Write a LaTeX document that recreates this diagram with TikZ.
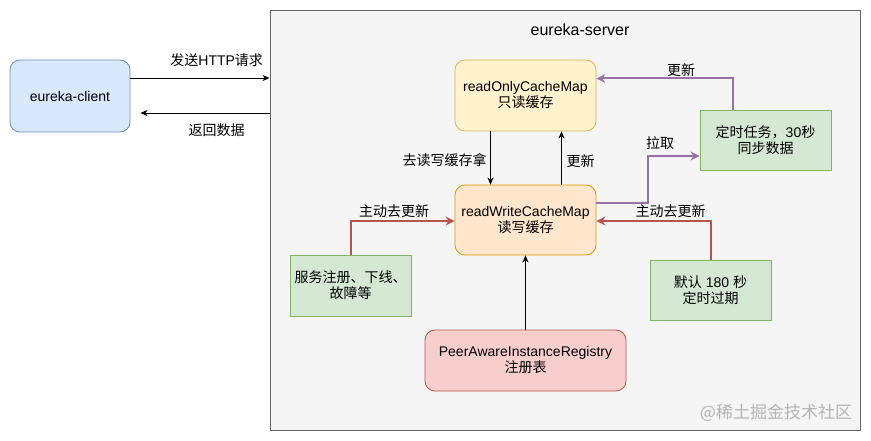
\documentclass[tikz,border=0pt]{standalone}
\usepackage{fontspec}
\setmainfont{Liberation Sans}
\newfontfamily\cjk{Noto Sans CJK SC}
\newcommand\zh[1]{{\cjk #1}}
\usetikzlibrary{arrows.meta}
\definecolor{srvfill}{HTML}{F5F5F5}
\definecolor{srvline}{HTML}{666666}
\definecolor{bluefill}{HTML}{DAE8FC}
\definecolor{blueline}{HTML}{6C8EBF}
\definecolor{yelfill}{HTML}{FFF2CC}
\definecolor{yelline}{HTML}{D6B656}
\definecolor{orgfill}{HTML}{FFE6CC}
\definecolor{orgline}{HTML}{D79B00}
\definecolor{grnfill}{HTML}{D5E8D4}
\definecolor{grnline}{HTML}{82B366}
\definecolor{redfill}{HTML}{F8CECC}
\definecolor{redline}{HTML}{B85450}
\definecolor{purline}{HTML}{9673A6}
\definecolor{wmark}{HTML}{B4B4B4}
\tikzset{
  base/.style={inner sep=0pt, align=center, font=\fontsize{14pt}{16pt}\selectfont},
  rbox/.style={base, draw, rounded corners=10pt, line width=0.8pt},
  sbox/.style={base, draw, line width=0.8pt},
  lbl/.style={inner sep=0pt, font=\fontsize{14pt}{16pt}\selectfont},
  blk/.style={-{Stealth[length=7pt,width=6pt,inset=2pt]}, line width=0.9pt},
  colarrow/.style={-{Stealth[length=9pt,width=9pt,inset=3pt]}, line width=2pt},
}
\begin{document}
\begin{tikzpicture}[x=1pt,y=-1pt]
\useasboundingbox (0,0) rectangle (871,441);
\node[sbox, fill=srvfill, draw=srvline, minimum width=590pt, minimum height=420pt] (server) at (565,220) {};
\node[lbl, font=\fontsize{16pt}{18pt}\selectfont] (title) at (580,30) {eureka-server};
\node[rbox, fill=bluefill, draw=blueline, minimum width=120pt, minimum height=72pt] (client) at (70,96) {eureka-client};
\node[rbox, fill=yelfill, draw=yelline, minimum width=141pt, minimum height=71pt] (ro) at (525.5,95.5) {readOnlyCacheMap\\\zh{只读缓存}};
\node[rbox, fill=orgfill, draw=orgline, minimum width=141pt, minimum height=70pt] (rw) at (525.5,220) {readWriteCacheMap\\\zh{读写缓存}};
\node[sbox, fill=grnfill, draw=grnline, minimum width=131pt, minimum height=60pt] (timer) at (765.5,140) {\zh{定时任务，}30\zh{秒}\\\zh{同步数据}};
\node[sbox, fill=grnfill, draw=grnline, minimum width=121pt, minimum height=61pt] (svc) at (350.5,285.5) {\zh{服务注册、下线、}\\\zh{故障等}};
\node[sbox, fill=grnfill, draw=grnline, minimum width=121pt, minimum height=60pt] (def) at (710.5,290) {\zh{默认} 180 \zh{秒}\\\zh{定时过期}};
\node[rbox, fill=redfill, draw=redline, minimum width=201pt, minimum height=61pt] (peer) at (525.5,360.5) {PeerAwareInstanceRegistry\\\zh{注册表}};
\node[lbl, text=wmark, font=\cjk\fontsize{17pt}{18pt}\selectfont] (wm) at (776,413) {@稀土掘金技术社区};

% client <-> server
\draw[blk] ([yshift=18pt]client.east) -- ([yshift=18pt]client.east -| server.west)
  node[lbl, pos=0.62, yshift=18pt] {\zh{发送}HTTP\zh{请求}};
\draw[blk] ([yshift=-17pt]client.east -| server.west) -- ([yshift=-17pt,xshift=10pt]client.east)
  node[lbl, pos=0.41, yshift=-17pt] {\zh{返回数据}};

% ro <-> rw
\draw[blk] ([xshift=-35pt]ro.south) -- ([xshift=-35pt]rw.north)
  node[lbl, pos=0.54, xshift=-46pt] {\zh{去读写缓存拿}};
\draw[blk] ([xshift=36pt]rw.north) -- ([xshift=36pt]ro.south)
  node[lbl, pos=0.44, xshift=19pt] {\zh{更新}};

% purple
\draw[colarrow, purline] ([xshift=-32.5pt]timer.north) |- ([yshift=17pt]ro.east)
  node[lbl, text=black, pos=0.69, yshift=8pt] {\zh{更新}};
\draw[colarrow, purline] ([yshift=17pt]rw.east) -- ++(52,0) |- ([yshift=-16pt]timer.west)
  node[lbl, text=black, pos=0.615, yshift=13pt] {\zh{拉取}};

% red
\draw[colarrow, redline] (svc.north) |- ([yshift=-1pt]rw.west)
  node[lbl, text=black, pos=0.71, yshift=10pt] {\zh{主动去更新}};
\draw[colarrow, redline] (def.north) |- ([yshift=-1pt]rw.east)
  node[lbl, text=black, pos=0.675, yshift=10pt] {\zh{主动去更新}};

% peer -> rw
\draw[blk] (peer.north) -- (rw.south);
\end{tikzpicture}
\end{document}
